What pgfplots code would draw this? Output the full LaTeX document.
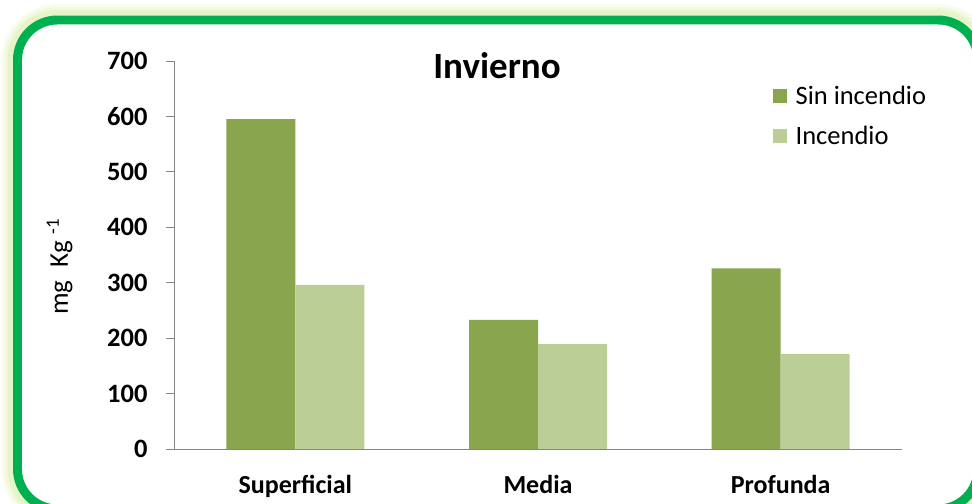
\documentclass[border=0pt]{standalone}
\usepackage{pgfplots}
\pgfplotsset{compat=1.18}
\usepackage{fontspec}
\setmainfont{Carlito}
\definecolor{frameg}{RGB}{0,176,80}
\definecolor{glowg}{RGB}{210,235,150}
\definecolor{darkbar}{RGB}{137,165,78}
\definecolor{lightbar}{RGB}{186,206,150}
\definecolor{axgray}{RGB}{134,134,134}
\begin{document}
\begin{tikzpicture}[x=1bp,y=1bp]
\clip (0,0) rectangle (972,504);
\fill[white] (0,0) rectangle (972,504);
\draw[line width=32, color=glowg, opacity=0.15, rounded corners=40] (17.5,484) rectangle (978,-5);
\draw[line width=26, color=glowg, opacity=0.2, rounded corners=40] (17.5,484) rectangle (978,-5);
\draw[line width=20, color=glowg, opacity=0.3, rounded corners=40] (17.5,484) rectangle (978,-5);
\fill[white, rounded corners=40] (17.5,484) rectangle (978,-5);
\draw[line width=9, color=frameg, rounded corners=40] (17.5,484) rectangle (978,-5);
\begin{axis}[
  at={(174bp,55bp)}, anchor=south west,
  scale only axis, width=728bp, height=388bp,
  xmin=0.5, xmax=3.5, ymin=0, ymax=700,
  ybar=0pt, bar width=69bp,
  axis x line=bottom, axis y line=left,
  axis line style={draw=axgray, line width=0.8bp, -},
  xtick={1,2,3}, xticklabels={Superficial,Media,Profunda},
  major x tick style={draw=none},
  xticklabel style={font=\fontsize{26bp}{30bp}\selectfont\bfseries, anchor=north, yshift=-15bp},
  ytick={0,100,...,700},
  tick align=outside, major tick length=8bp,
  major y tick style={draw=axgray, line width=0.8bp},
  /pgf/number format/assume math mode=true,
  yticklabel style={font=\fontsize{26.5bp}{30bp}\selectfont\bfseries, xshift=-15bp},
  title={Invierno},
  title style={at={(rel axis cs:0.4437,0.972)}, anchor=center, font=\fontsize{37bp}{42bp}\selectfont\bfseries},
  ylabel={mg\enspace Kg \textsuperscript{-1}},
  ylabel style={at={(rel axis cs:-0.157,0.47)}, anchor=center, rotate=0, font=\fontsize{27bp}{32bp}\selectfont},
  legend style={at={(rel axis cs:0.822,0.94)}, anchor=north west, draw=none, fill=none,
    font=\fontsize{26.5bp}{30bp}\selectfont, row sep=16bp, inner sep=0pt,
    /tikz/every odd column/.append style={column sep=7bp}},
  legend cell align=left,
  legend image code/.code={\fill[#1] (0bp,-7bp) rectangle (14bp,7bp);},
]
\addplot[fill=darkbar, draw=none] coordinates {(1,595) (2,233) (3,326)};
\addplot[fill=lightbar, draw=none] coordinates {(1,296) (2,189) (3,171)};
\legend{Sin incendio, Incendio}
\end{axis}
\end{tikzpicture}
\end{document}
